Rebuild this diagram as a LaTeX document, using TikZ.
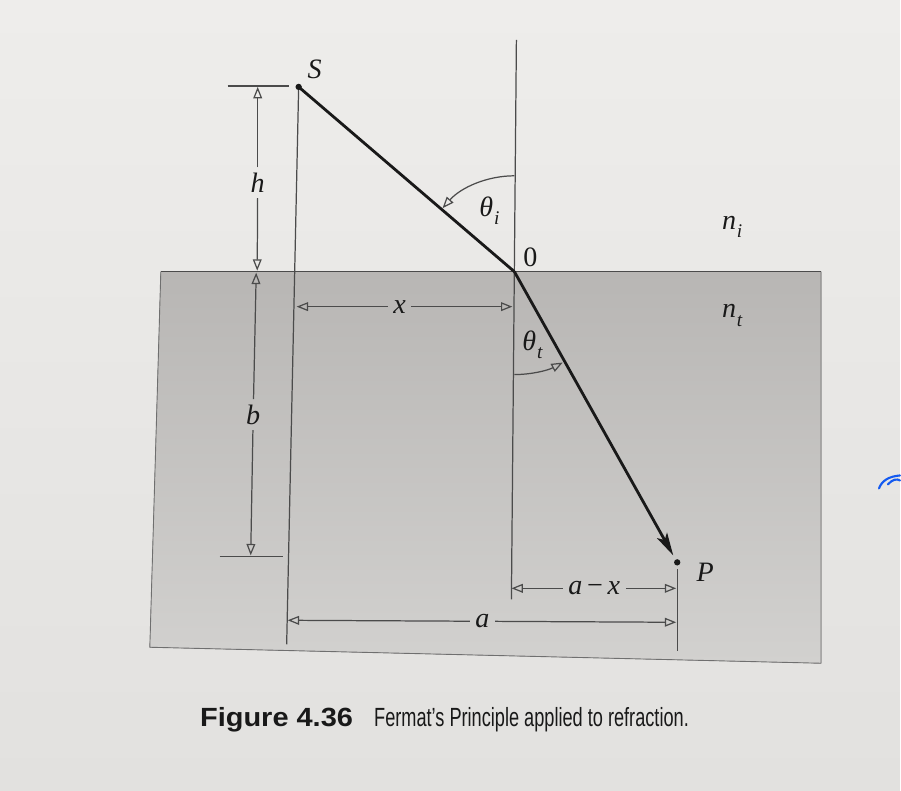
\documentclass[tikz,border=0pt]{standalone}
\usepackage{fontspec}
\setmainfont{Liberation Serif}
\setsansfont{Liberation Sans}
\usetikzlibrary{arrows.meta}
\definecolor{pagebg}{RGB}{226,225,223}
\definecolor{pagetop}{RGB}{238,237,235}
\definecolor{boxtop}{RGB}{184,182,180}
\definecolor{boxbot}{RGB}{210,209,207}
\definecolor{ink}{RGB}{25,25,25}
\definecolor{dimc}{RGB}{75,75,75}
\definecolor{penblue}{RGB}{20,90,240}
\begin{document}
\begin{tikzpicture}[x=0.02cm,y=-0.02cm,
  lab/.style={font=\fontsize{16}{18}\selectfont\itshape, text=ink, inner sep=3pt},
  uplab/.style={font=\fontsize{16}{18}\selectfont, text=ink, inner sep=1pt},
  ray/.style={line width=1.6pt, draw=ink},
  thinline/.style={line width=0.7pt, draw=dimc},
  opentip/.style={-{Triangle[open,length=6.5pt,width=5pt]}},
  dimline/.style={thinline, opentip},
  capfont/.style={font=\sffamily\fontsize{15}{17}\selectfont, text=ink, inner sep=0pt}
]
% page background and bounding box
\fill[top color=pagetop, bottom color=pagebg] (0,0) rectangle (901,791);

% lower medium (shaded block)
\fill[top color=boxtop, bottom color=boxbot] (161,272) -- (822,272) -- (822,664) -- (150,648) -- cycle;
\draw[line width=0.5pt, draw=dimc!80] (161,272) -- (150,648) -- (822,664) -- (822,272);
\draw[line width=0.9pt, draw=dimc] (161,272) -- (822,272);

% main points
\coordinate (S) at (299,87);
\coordinate (O) at (515,272);
\coordinate (P) at (678,563);
\coordinate (Ptip) at (674,556);
\coordinate (Sbot) at (287,645);
\coordinate (Ntop) at (517,40);
\coordinate (Nbot) at (512,600);

% vertical through S and normal at O
\draw[thinline] (S) -- (Sbot);
\draw[thinline] (Ntop) -- (Nbot);

% rays
\draw[ray] (S) -- (O);
\draw[ray, -{Stealth[length=13pt,width=6.5pt,inset=3pt]}] (O) -- (Ptip);
\fill[ink] (S) circle (1.8pt);
\fill[ink] (P) circle (1.8pt);

% angles
\draw[thinline, opentip] (515,176) arc[start angle=270, end angle=221.5, radius=96];
\draw[thinline, opentip] (515,375) arc[start angle=90, end angle=62, radius=103];

% h dimension
\coordinate (ht1) at (228,86);
\coordinate (ht2) at (289,86);
\draw[thinline] (ht1) -- (ht2);
\coordinate (htop) at (258,87);
\coordinate (hbot) at (257.5,271);
\node[lab] (hl) at (258,183) {h};
\draw[dimline] (hl) -- (htop);
\draw[dimline] (hl) -- (hbot);

% b dimension
\coordinate (btop) at (256.5,273);
\coordinate (bbot) at (251,556);
\node[lab] (bl) at (253.5,415) {b};
\draw[dimline] (bl) -- (btop);
\draw[dimline] (bl) -- (bbot);
\coordinate (bt1) at (220,557);
\coordinate (bt2) at (283,557);
\draw[thinline] (bt1) -- (bt2);

% x dimension
\coordinate (xl1) at (297,307);
\coordinate (xr1) at (513,307);
\node[lab] (xl) at (400,307) {x};
\draw[dimline] (xl) -- (xl1);
\draw[dimline] (xl) -- (xr1);

% a - x dimension
\coordinate (axl) at (512,589);
\coordinate (axr) at (677,589);
\node[lab] (axlab) at (595,589) {a\,{\upshape −}\,x};
\draw[dimline] (axlab) -- (axl);
\draw[dimline] (axlab) -- (axr);

% a dimension
\coordinate (al) at (288,621);
\coordinate (ar) at (677,623);
\node[lab] (alab) at (483,622) {a};
\draw[dimline] (alab) -- (al);
\draw[dimline] (alab) -- (ar);

% tick at P
\coordinate (pt1) at (678,570);
\coordinate (pt2) at (678,652);
\draw[thinline] (pt1) -- (pt2);

% labels
\node[lab] (Slab) at (315,69) {S};
\node[uplab] (Olab) at (531,258) {0};
\node[lab] (Plab) at (706,573) {P};
\node[lab] (thi) at (490,211) {θ\kern0.5pt\raisebox{-0.3em}{\fontsize{11}{12}\selectfont i}};
\node[lab] (tht) at (533,345) {θ\kern0.5pt\raisebox{-0.3em}{\fontsize{11}{12}\selectfont t}};
\node[lab] (ni) at (733,227) {n\kern0.5pt\raisebox{-0.3em}{\fontsize{11}{12}\selectfont i}};
\node[lab] (nt) at (733,316) {n\kern0.5pt\raisebox{-0.3em}{\fontsize{11}{12}\selectfont t}};

% caption
\node[capfont, anchor=base west] (fig) at (200,727) {\scalebox{1.1}[1]{\bfseries Figure 4.36}};
\node[capfont, anchor=base east] (cap) at (690,727) {\scalebox{0.69}[1]{Fermat’s Principle applied to refraction.}};

% pen mark
\draw[penblue, line width=1.2pt, line cap=round] (880,489) .. controls (883,481) and (890,477) .. (901,476);
\draw[penblue, line width=1.2pt, line cap=round] (889,485) .. controls (893,480) and (898,479) .. (901,481);
\end{tikzpicture}
\end{document}
